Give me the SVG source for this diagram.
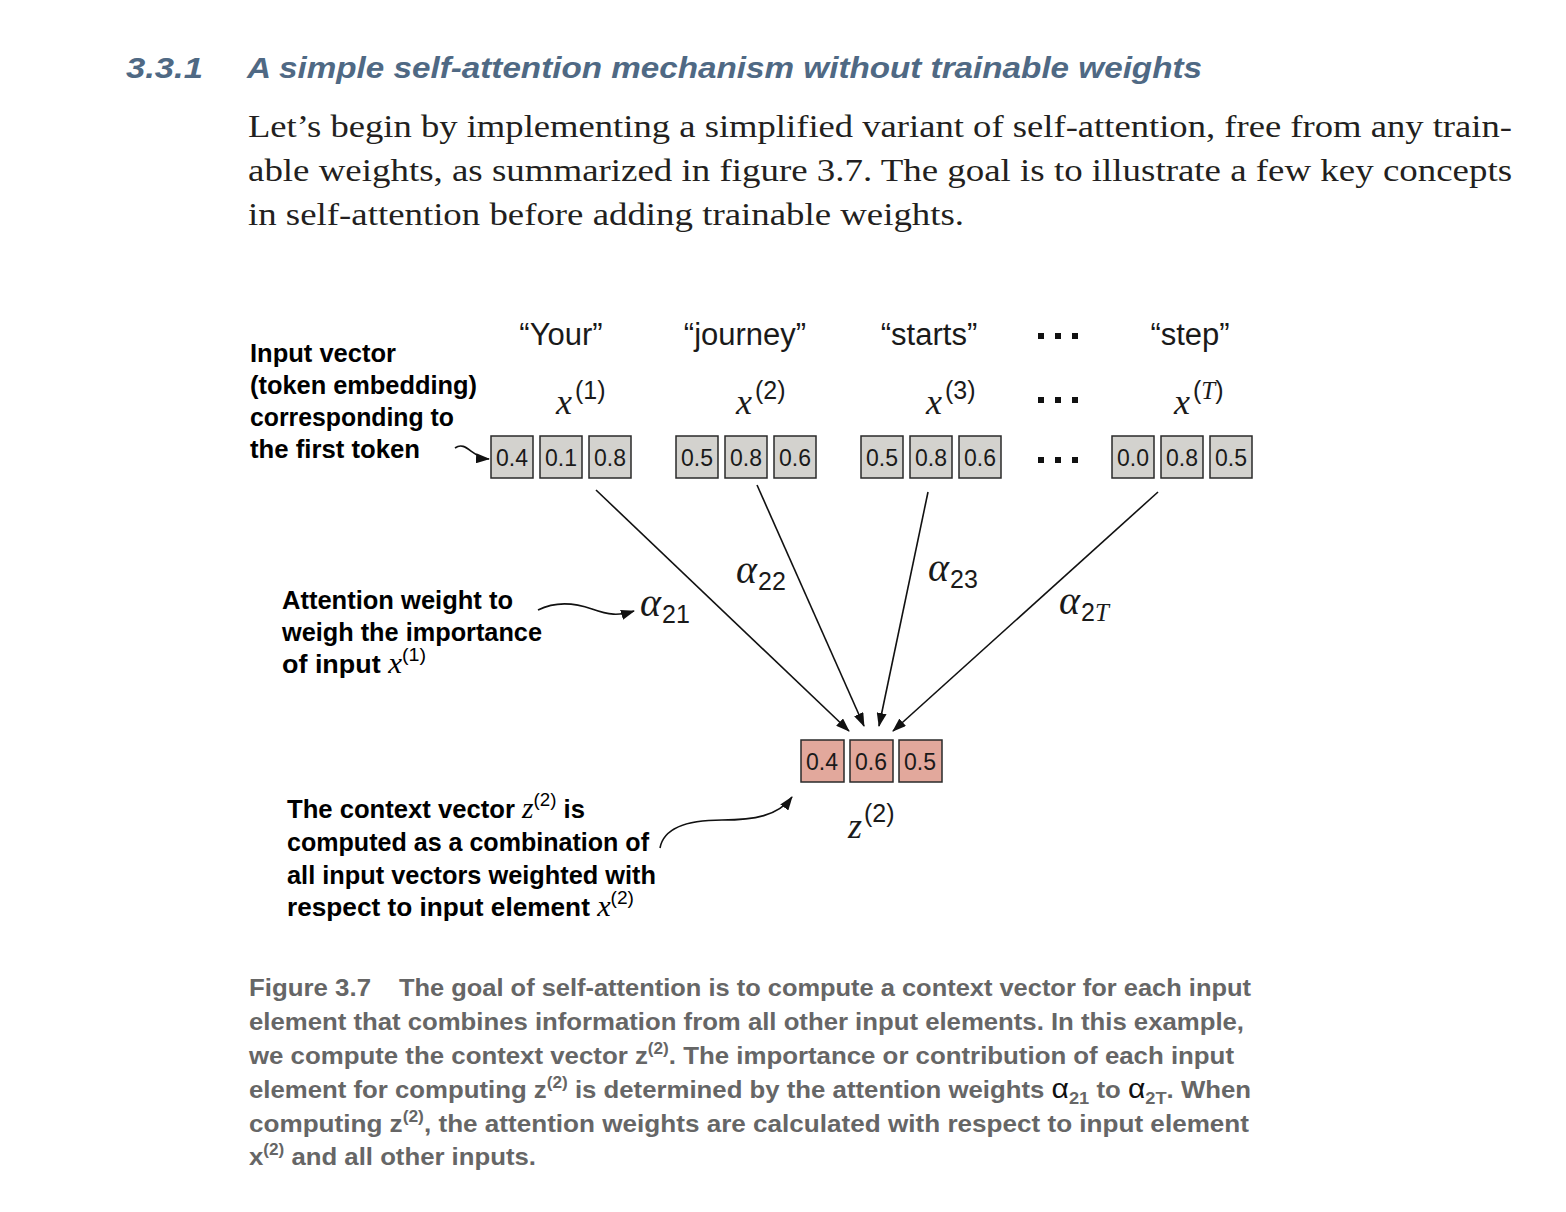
<svg xmlns="http://www.w3.org/2000/svg" width="1566" height="1212" viewBox="0 0 1566 1212">
<style>
.title{font-family:"Liberation Sans",Arial,sans-serif;font-weight:bold;font-style:italic;font-size:30px;fill:#4f6984}
.body{font-family:"Liberation Serif","Times New Roman",serif;font-size:32px;fill:#231f20}
.call{font-family:"Liberation Sans",Arial,sans-serif;font-weight:bold;font-size:26px;fill:#000}
.callm{font-family:"Liberation Serif",serif;font-style:italic;font-weight:normal;font-size:30px}
.callsup{font-family:"Liberation Sans",Arial,sans-serif;font-weight:normal;font-size:19px}
.tok{font-family:"Liberation Sans",Arial,sans-serif;font-size:31px;fill:#1a1a1a}
.mx{font-family:"Liberation Serif",serif;font-style:italic;font-size:36px;fill:#1a1a1a}
.al{font-family:"Liberation Serif",serif;font-style:italic;font-size:40px;fill:#1a1a1a}
.sup{font-family:"Liberation Sans",Arial,sans-serif;font-style:normal;font-size:25px}
.supi{font-family:"Liberation Serif",serif;font-style:italic;font-size:25px}
.num{font-family:"Liberation Sans",Arial,sans-serif;font-size:23px;fill:#1a1a1a;text-anchor:middle}
.g{fill:#d3d2ce;stroke:#2a2a2a;stroke-width:1.5}
.p{fill:#e2a89c;stroke:#2a2a2a;stroke-width:1.5}
.cap{font-family:"Liberation Sans",Arial,sans-serif;font-weight:bold;font-size:24px;fill:#666}
.csup{font-size:16px}
.ca{font-weight:normal;font-size:28px;fill:#111}
.cas{font-size:17px}
.ln{fill:none;stroke:#111;stroke-width:1.6}
.dot{fill:#111}
</style>
<defs>
<marker id="ah" viewBox="0 0 14 10" refX="13" refY="5" markerWidth="14" markerHeight="10" markerUnits="userSpaceOnUse" orient="auto">
<path d="M0,0 L14,5 L0,10 Z" fill="#111"/>
</marker>
</defs>

<g id="heading">
<text class="title" x="126" y="78" textLength="77" lengthAdjust="spacingAndGlyphs">3.3.1</text>
<text class="title" x="247" y="78" textLength="955" lengthAdjust="spacingAndGlyphs">A simple self-attention mechanism without trainable weights</text>
</g>

<g id="paragraph">
<text class="body" x="248" y="137" textLength="1264" lengthAdjust="spacingAndGlyphs">Let’s begin by implementing a simplified variant of self-attention, free from any train-</text>
<text class="body" x="248" y="181" textLength="1264" lengthAdjust="spacingAndGlyphs">able weights, as summarized in figure 3.7. The goal is to illustrate a few key concepts</text>
<text class="body" x="248" y="225" textLength="716" lengthAdjust="spacingAndGlyphs">in self-attention before adding trainable weights.</text>
</g>

<g id="token-words">
<text class="tok" x="561" y="345" text-anchor="middle">“Your”</text>
<text class="tok" x="745" y="345" text-anchor="middle">“journey”</text>
<text class="tok" x="929" y="345" text-anchor="middle">“starts”</text>
<text class="tok" x="1190" y="345" text-anchor="middle">“step”</text>
</g>

<g id="ellipsis">
<rect class="dot" x="1038" y="333" width="6" height="6"/><rect class="dot" x="1055" y="333" width="6" height="6"/><rect class="dot" x="1072" y="333" width="6" height="6"/>
<rect class="dot" x="1038" y="397" width="6" height="6"/><rect class="dot" x="1055" y="397" width="6" height="6"/><rect class="dot" x="1072" y="397" width="6" height="6"/>
<rect class="dot" x="1038" y="457" width="6" height="6"/><rect class="dot" x="1055" y="457" width="6" height="6"/><rect class="dot" x="1072" y="457" width="6" height="6"/>
</g>

<g id="x-labels">
<text class="mx" x="556" y="414">x<tspan class="sup" dx="3" dy="-15">(1)</tspan></text>
<text class="mx" x="736" y="414">x<tspan class="sup" dx="3" dy="-15">(2)</tspan></text>
<text class="mx" x="926" y="414">x<tspan class="sup" dx="3" dy="-15">(3)</tspan></text>
<text class="mx" x="1174" y="414">x<tspan class="sup" dx="3" dy="-15">(<tspan class="supi">T</tspan>)</tspan></text>
</g>

<g id="input-1">
<rect class="g" x="491" y="436" width="42" height="42"/><text class="num" x="512" y="466">0.4</text>
<rect class="g" x="540" y="436" width="42" height="42"/><text class="num" x="561" y="466">0.1</text>
<rect class="g" x="589" y="436" width="42" height="42"/><text class="num" x="610" y="466">0.8</text>
</g>
<g id="input-2">
<rect class="g" x="676" y="436" width="42" height="42"/><text class="num" x="697" y="466">0.5</text>
<rect class="g" x="725" y="436" width="42" height="42"/><text class="num" x="746" y="466">0.8</text>
<rect class="g" x="774" y="436" width="42" height="42"/><text class="num" x="795" y="466">0.6</text>
</g>
<g id="input-3">
<rect class="g" x="861" y="436" width="42" height="42"/><text class="num" x="882" y="466">0.5</text>
<rect class="g" x="910" y="436" width="42" height="42"/><text class="num" x="931" y="466">0.8</text>
<rect class="g" x="959" y="436" width="42" height="42"/><text class="num" x="980" y="466">0.6</text>
</g>
<g id="input-T">
<rect class="g" x="1112" y="436" width="42" height="42"/><text class="num" x="1133" y="466">0.0</text>
<rect class="g" x="1161" y="436" width="42" height="42"/><text class="num" x="1182" y="466">0.8</text>
<rect class="g" x="1210" y="436" width="42" height="42"/><text class="num" x="1231" y="466">0.5</text>
</g>

<g id="context-vector">
<rect class="p" x="801" y="740" width="43" height="42"/><text class="num" x="822" y="770">0.4</text>
<rect class="p" x="850" y="740" width="43" height="42"/><text class="num" x="871" y="770">0.6</text>
<rect class="p" x="899" y="740" width="43" height="42"/><text class="num" x="920" y="770">0.5</text>
<text class="mx" x="848" y="838">z<tspan class="sup" dx="2" dy="-16">(2)</tspan></text>
</g>

<g id="alpha-labels">
<text class="al" x="640" y="616">α<tspan class="sup" dx="1" dy="7">21</tspan></text>
<text class="al" x="736" y="583">α<tspan class="sup" dx="1" dy="7">22</tspan></text>
<text class="al" x="928" y="581">α<tspan class="sup" dx="1" dy="7">23</tspan></text>
<text class="al" x="1059" y="614">α<tspan class="sup" dx="1" dy="7">2<tspan class="supi">T</tspan></tspan></text>
</g>

<g id="callout-input">
<text class="call" x="250" y="362" textLength="146" lengthAdjust="spacingAndGlyphs">Input vector</text>
<text class="call" x="250" y="394" textLength="227" lengthAdjust="spacingAndGlyphs">(token embedding)</text>
<text class="call" x="250" y="426" textLength="204" lengthAdjust="spacingAndGlyphs">corresponding to</text>
<text class="call" x="250" y="458" textLength="170" lengthAdjust="spacingAndGlyphs">the first token</text>
</g>

<g id="callout-weight">
<text class="call" x="282" y="609" textLength="231" lengthAdjust="spacingAndGlyphs">Attention weight to</text>
<text class="call" x="282" y="641" textLength="260" lengthAdjust="spacingAndGlyphs">weigh the importance</text>
<text class="call" x="282" y="673" textLength="144" lengthAdjust="spacingAndGlyphs">of input <tspan class="callm">x</tspan><tspan class="callsup" dy="-12">(1)</tspan></text>
</g>

<g id="callout-context">
<text class="call" x="287" y="818" textLength="298" lengthAdjust="spacingAndGlyphs">The context vector <tspan class="callm">z</tspan><tspan class="callsup" dy="-12">(2)</tspan><tspan dy="12"> is</tspan></text>
<text class="call" x="287" y="851" textLength="362" lengthAdjust="spacingAndGlyphs">computed as a combination of</text>
<text class="call" x="287" y="884" textLength="369" lengthAdjust="spacingAndGlyphs">all input vectors weighted with</text>
<text class="call" x="287" y="916" textLength="347" lengthAdjust="spacingAndGlyphs">respect to input element <tspan class="callm">x</tspan><tspan class="callsup" dy="-12">(2)</tspan></text>
</g>

<g id="connectors">
<line class="ln" x1="596" y1="490" x2="849" y2="731" marker-end="url(#ah)"/>
<line class="ln" x1="757" y1="485" x2="864" y2="726" marker-end="url(#ah)"/>
<line class="ln" x1="928" y1="492" x2="879" y2="726" marker-end="url(#ah)"/>
<line class="ln" x1="1158" y1="492" x2="893" y2="731" marker-end="url(#ah)"/>
<path class="ln" d="M455,448 C466,440 472,458 489,459" marker-end="url(#ah)"/>
<path class="ln" d="M538,610 C556,601 575,603 592,609 S618,616 634,611" marker-end="url(#ah)"/>
<path class="ln" d="M660,848 C664,826 690,820 722,820 S778,816 792,797" marker-end="url(#ah)"/>
</g>

<g id="caption">
<text class="cap" x="249" y="996" textLength="122" lengthAdjust="spacingAndGlyphs">Figure 3.7</text>
<text class="cap" x="399" y="996" textLength="852" lengthAdjust="spacingAndGlyphs">The goal of self-attention is to compute a context vector for each input</text>
<text class="cap" x="249" y="1030" textLength="995" lengthAdjust="spacingAndGlyphs">element that combines information from all other input elements. In this example,</text>
<text class="cap" x="249" y="1064" textLength="985" lengthAdjust="spacingAndGlyphs">we compute the context vector z<tspan class="csup" dy="-10">(2)</tspan><tspan dy="10">. The importance or contribution of each input</tspan></text>
<text class="cap" x="249" y="1098" textLength="1002" lengthAdjust="spacingAndGlyphs">element for computing z<tspan class="csup" dy="-10">(2)</tspan><tspan dy="10"> is determined by the attention weights </tspan><tspan class="ca">α</tspan><tspan class="cas" dy="6">21</tspan><tspan dy="-6"> to </tspan><tspan class="ca">α</tspan><tspan class="cas" dy="6">2T</tspan><tspan dy="-6">. When</tspan></text>
<text class="cap" x="249" y="1132" textLength="1000" lengthAdjust="spacingAndGlyphs">computing z<tspan class="csup" dy="-10">(2)</tspan><tspan dy="10">, the attention weights are calculated with respect to input element</tspan></text>
<text class="cap" x="249" y="1165" textLength="287" lengthAdjust="spacingAndGlyphs">x<tspan class="csup" dy="-10">(2)</tspan><tspan dy="10"> and all other inputs.</tspan></text>
</g>
</svg>
